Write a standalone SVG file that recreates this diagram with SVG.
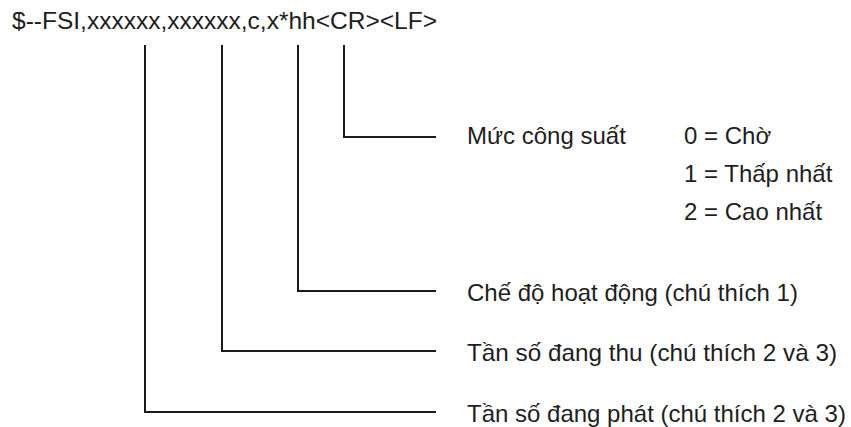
<svg xmlns="http://www.w3.org/2000/svg" width="851" height="427" viewBox="0 0 851 427">
<style>
text{font-family:"Liberation Sans",Arial,sans-serif;font-size:24px;fill:#1e1e1e}
.c{fill:none;stroke:#1a1a1a;stroke-width:2}
</style>
<rect width="851" height="427" fill="#ffffff"/>
<g id="sentence"><text x="12" y="28.5" textLength="425" lengthAdjust="spacingAndGlyphs">$--FSI,xxxxxx,xxxxxx,c,x*hh&lt;CR&gt;&lt;LF&gt;</text></g>
<g id="connectors">
<polyline class="c" points="344,45 344,137 436,137"/>
<polyline class="c" points="298,45 298,291 436,291"/>
<polyline class="c" points="222,45 222,351 436,351"/>
<polyline class="c" points="145,45 145,412 436,412"/>
</g>
<g id="power"><text x="467" y="144">Mức công suất</text>
<text x="684" y="144">0 = Chờ</text>
<text x="684" y="182">1 = Thấp nhất</text>
<text x="684" y="220">2 = Cao nhất</text></g>
<g id="mode"><text x="467" y="301">Chế độ hoạt động (chú thích 1)</text></g>
<g id="rx"><text x="467" y="361" textLength="370" lengthAdjust="spacingAndGlyphs">Tần số đang thu (chú thích 2 và 3)</text></g>
<g id="tx"><text x="467" y="422">Tần số đang phát (chú thích 2 và 3)</text></g>
</svg>
